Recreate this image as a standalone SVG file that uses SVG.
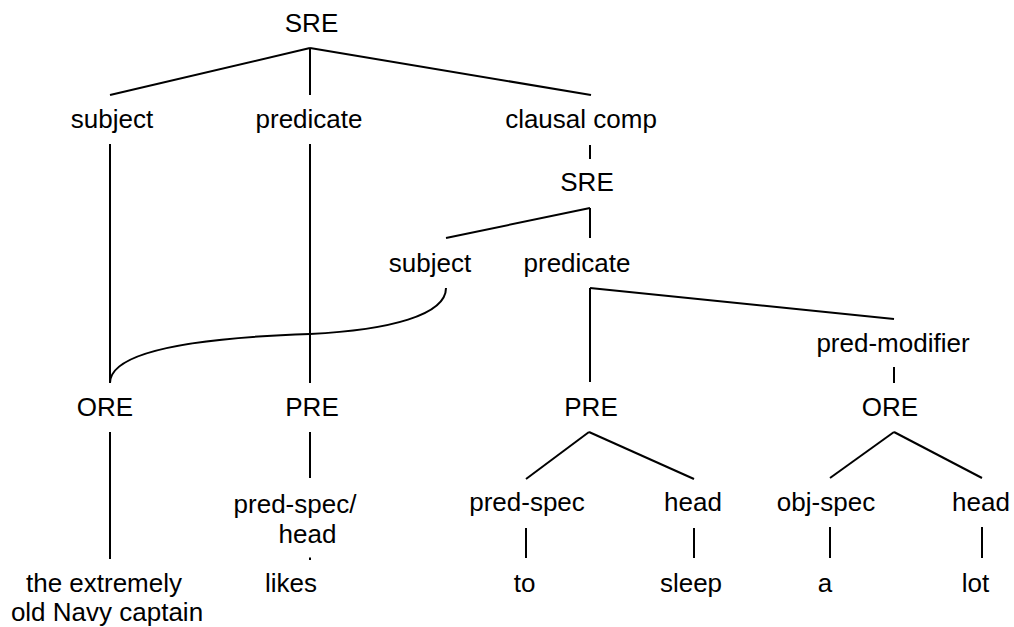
<svg xmlns="http://www.w3.org/2000/svg" width="1014" height="627" viewBox="0 0 1014 627">
<style>
text{font-family:"Liberation Sans",Arial,Helvetica,sans-serif;font-size:26px;fill:#000;text-anchor:middle}
.c line,.c path{stroke:#000;stroke-width:2;fill:none}
</style>
<rect width="1014" height="627" fill="#fff"/>
<g id="connectors" class="c">
<line x1="310" y1="48" x2="110" y2="95"/>
<line x1="310" y1="48" x2="310" y2="95"/>
<line x1="310" y1="48" x2="591" y2="95"/>
<line x1="110" y1="144" x2="110" y2="383"/>
<line x1="310" y1="144" x2="310" y2="383"/>
<line x1="590" y1="145" x2="590" y2="159"/>
<line x1="590" y1="208" x2="446" y2="238"/>
<line x1="590" y1="208" x2="590" y2="238"/>
<path d="M446,288 C446,315 390,330 310,334 C190,338 110,352 110,383"/>
<line x1="590" y1="288" x2="590" y2="382"/>
<line x1="590" y1="288" x2="894" y2="319"/>
<line x1="894" y1="367" x2="894" y2="383"/>
<line x1="894" y1="432" x2="830" y2="478"/>
<line x1="894" y1="432" x2="982" y2="478"/>
<line x1="830" y1="527" x2="830" y2="558"/>
<line x1="982" y1="527" x2="982" y2="558"/>
<line x1="589" y1="432" x2="526" y2="479"/>
<line x1="589" y1="432" x2="694" y2="479"/>
<line x1="526" y1="528" x2="526" y2="558"/>
<line x1="694" y1="528" x2="694" y2="558"/>
<line x1="110" y1="432" x2="110" y2="559"/>
<line x1="310" y1="432" x2="310" y2="478"/>
<line x1="310" y1="557.5" x2="310" y2="560"/>
</g>
<g id="n-sre1"><text x="311.5" y="32">SRE</text></g>
<g id="n-subject1"><text x="112" y="128">subject</text></g>
<g id="n-predicate1"><text x="309" y="128">predicate</text></g>
<g id="n-clausal"><text x="581" y="128">clausal comp</text></g>
<g id="n-sre2"><text x="587" y="191">SRE</text></g>
<g id="n-subject2"><text x="430" y="272">subject</text></g>
<g id="n-predicate2"><text x="577" y="272">predicate</text></g>
<g id="n-predmod"><text x="893" y="352">pred-modifier</text></g>
<g id="n-ore1"><text x="105" y="416">ORE</text></g>
<g id="n-pre1"><text x="312" y="416">PRE</text></g>
<g id="n-pre2"><text x="591" y="416">PRE</text></g>
<g id="n-ore2"><text x="890" y="416">ORE</text></g>
<g id="n-predspechead"><text x="295" y="513">pred-spec/</text><text x="307.5" y="543">head</text></g>
<g id="n-predspec"><text x="527" y="511">pred-spec</text></g>
<g id="n-head1"><text x="693" y="511">head</text></g>
<g id="n-objspec"><text x="826" y="511">obj-spec</text></g>
<g id="n-head2"><text x="981" y="511">head</text></g>
<g id="n-captain"><text x="104" y="592">the extremely</text><text x="107" y="621">old Navy captain</text></g>
<g id="n-likes"><text x="291" y="592">likes</text></g>
<g id="n-to"><text x="524.5" y="592">to</text></g>
<g id="n-sleep"><text x="691" y="592">sleep</text></g>
<g id="n-a"><text x="825" y="592">a</text></g>
<g id="n-lot"><text x="975.5" y="592">lot</text></g>
</svg>
